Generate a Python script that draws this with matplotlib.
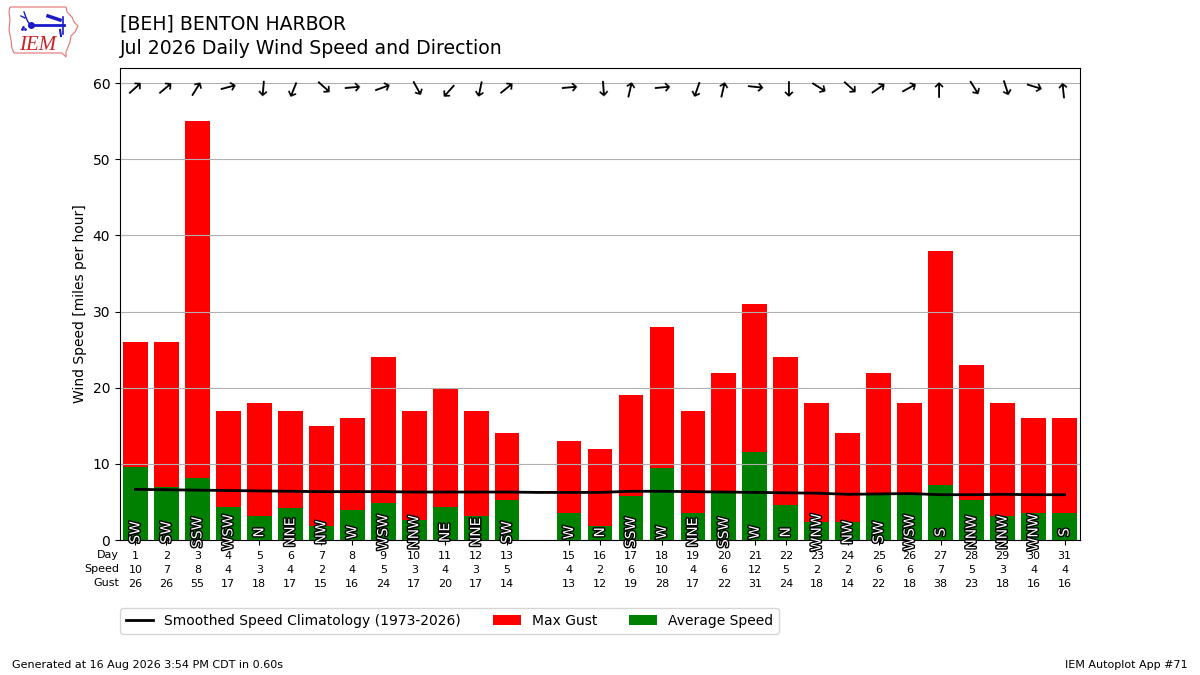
import matplotlib
matplotlib.use("Agg")
import matplotlib.pyplot as plt
import matplotlib.patheffects as pe
from matplotlib.patches import Polygon
import numpy as np

# ---------------- data ----------------
days = [1, 2, 3, 4, 5, 6, 7, 8, 9, 10, 11, 12, 13,
        15, 16, 17, 18, 19, 20, 21, 22, 23, 24, 25, 26, 27, 28, 29, 30, 31]
avg_speed = [9.6, 6.9, 8.2, 4.3, 3.2, 4.2, 1.9, 3.9, 4.9, 2.6, 4.3, 3.2, 5.3,
             3.6, 1.9, 5.8, 9.5, 3.6, 6.2, 11.6, 4.6, 2.4, 2.4, 5.9, 5.9, 7.2, 5.3, 3.2, 3.5, 3.5]
speed_label = [10, 7, 8, 4, 3, 4, 2, 4, 5, 3, 4, 3, 5,
               4, 2, 6, 10, 4, 6, 12, 5, 2, 2, 6, 6, 7, 5, 3, 4, 4]
max_gust = [26, 26, 55, 17, 18, 17, 15, 16, 24, 17, 20, 17, 14,
            13, 12, 19, 28, 17, 22, 31, 24, 18, 14, 22, 18, 38, 23, 18, 16, 16]
drct_deg = [228, 230, 212, 255, 5, 22, 312, 265, 250, 331, 42, 12, 231,
            265, 356, 193, 265, 19, 193, 276, 0, 302, 312, 235, 241, 180, 328, 342, 287, 174]
drct_txt = ["SW", "SW", "SSW", "WSW", "N", "NNE", "NW", "W", "WSW", "NNW", "NE", "NNE", "SW",
            "W", "N", "SSW", "W", "NNE", "SSW", "W", "N", "WNW", "NW", "SW", "WSW", "S", "NNW", "NNW", "WNW", "S"]
clim_days = list(range(1, 32))
clim_speed = [6.65, 6.6, 6.55, 6.5, 6.45, 6.4, 6.35, 6.35, 6.35, 6.3, 6.3, 6.3, 6.3, 6.25, 6.25,
              6.25, 6.4, 6.4, 6.35, 6.3, 6.25, 6.2, 6.15, 6.0, 6.05, 6.1, 5.95, 5.95, 6.0, 5.95, 5.95]

title_lines = ["[BEH] BENTON HARBOR", "Jul 2026 Daily Wind Speed and Direction"]

# ---------------- figure ----------------
fig = plt.figure(figsize=(12, 6.75), dpi=100)
ax = fig.add_axes([0.1, 0.2, 0.8, 0.6993])

ax.bar(days, max_gust, width=0.8, color="#ff0000", label="Max Gust")
ax.bar(days, avg_speed, width=0.8, color="#008000", label="Average Speed")
ax.plot(clim_days, clim_speed, color="k", lw=2, zorder=3,
        label="Smoothed Speed Climatology (1973-2026)")

ax.set_xlim(0.5, 31.5)
ax.set_ylim(0, 62)
ax.set_yticks(np.arange(0, 61, 10))
ax.grid(True, axis="y")
ax.set_ylabel("Wind Speed [miles per hour]")

ax.set_xticks(days)
ax.set_xticklabels([f"{d}\n{s}\n{g}" for d, s, g in zip(days, speed_label, max_gust)],
                   fontsize=8, linespacing=1.5)
ax.tick_params(axis="x", pad=4.5)

# direction arrows
for d, dr in zip(days, drct_deg):
    ax.text(d, 59.3, "\u2192", rotation=(270 - dr) % 360, ha="center", va="center",
            fontsize=15, rotation_mode="anchor")

# direction text
for d, t in zip(days, drct_txt):
    ax.text(d, 1.0, t, rotation=90, ha="center", va="center", color="white",
            fontsize=10, zorder=5,
            path_effects=[pe.withStroke(linewidth=2, foreground="k")])

fig.text(119 / 1200, 1 - 550 / 675, "Day\nSpeed\nGust", ha="right", va="top",
         fontsize=8, multialignment="right", linespacing=1.5)

# legend
h, l = ax.get_legend_handles_labels()
ax.legend(h, l, loc="upper left", bbox_to_anchor=(0, -0.145), ncol=3, fontsize=10,
          borderaxespad=0, columnspacing=2.3)

# titles
fig.text(0.1, 1 - 24 / 675, title_lines[0], ha="left", va="center", fontsize=13.6)
fig.text(0.1, 1 - 48 / 675, title_lines[1], ha="left", va="center", fontsize=13.6)

# footer
fig.text(12 / 1200, 1 - 665 / 675, "Generated at 16 Aug 2026 3:54 PM CDT in 0.60s",
         ha="left", va="center", fontsize=8)
fig.text(1188 / 1200, 1 - 665 / 675, "IEM Autoplot App #71", ha="right", va="center",
         fontsize=8)

# logo (approximation, pixel coordinates)
lax = fig.add_axes([0, 1 - 65 / 675, 90 / 1200, 65 / 675])
lax.set_xlim(0, 90)
lax.set_ylim(65, 0)
lax.axis("off")
iowa = [(10, 7), (66, 7), (67, 12), (72, 17), (74, 22), (78, 26), (75, 32), (71, 36),
        (70, 42), (68, 47), (66, 52), (66, 57), (62, 53), (14, 53), (12, 48), (11, 40),
        (9, 30), (10, 20), (9, 12)]
lax.add_patch(Polygon(iowa, closed=True, fill=False, ec="#e87070", lw=0.8))
lax.text(38, 45, "IEM", color="#cc2020", fontsize=15, family="Liberation Serif",
         style="italic", ha="center", va="center")
blue = "#1a1ac8"
lax.plot([31, 64], [25, 25], color=blue, lw=2)
lax.plot([31], [25], "o", color=blue, ms=4)
lax.plot([63, 63], [17, 34], color=blue, lw=1.2)
lax.plot([48, 60], [16, 20], color=blue, lw=2.5)
lax.plot([60, 61], [30, 36], color=blue, lw=1.5)
lax.plot([24, 27, 30], [12, 20, 25], color=blue, lw=1)
lax.plot([21, 25], [16, 18], color=blue, lw=1)
lax.plot([23, 25, 22], [27, 29, 29], ".", color=blue, ms=2)

fig.savefig("out.png", dpi=100)
